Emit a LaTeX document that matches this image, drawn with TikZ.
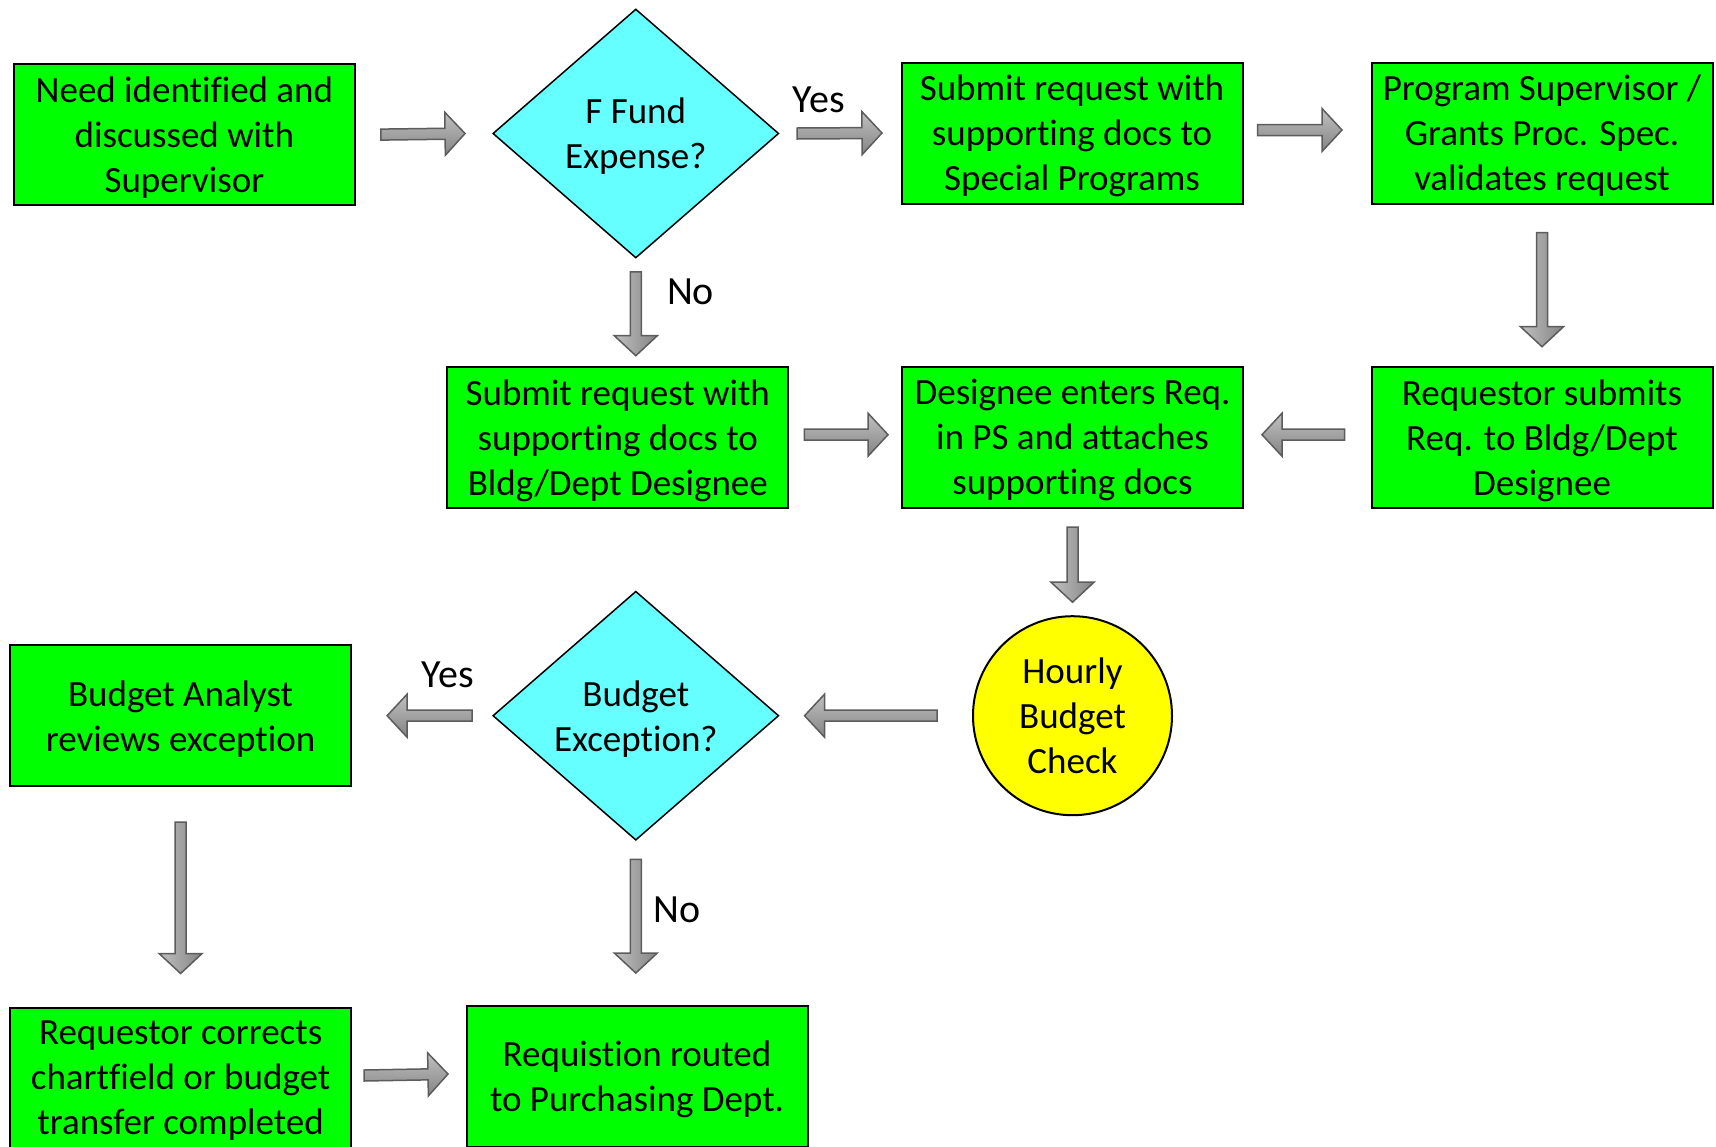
\documentclass[tikz,border=0pt]{standalone}
\usepackage{fontspec}
\setmainfont{Carlito}[Ligatures=NoCommon]
\usetikzlibrary{shapes.geometric,calc}

\definecolor{stepgreen}{RGB}{0,255,0}
\definecolor{decisioncyan}{RGB}{102,255,255}
\definecolor{checkyellow}{RGB}{255,255,0}
\definecolor{arrowedge}{RGB}{92,92,92}
\definecolor{arrowlight}{RGB}{192,192,192}
\definecolor{arrowdark}{RGB}{132,132,132}

\tikzset{
  base/.style={font=\fontsize{37}{45}\selectfont, align=center, inner sep=0pt,
    text depth=0pt},
  stepbox/.style={base, rectangle, draw=black, line width=2pt, fill=stepgreen,
    minimum width=341pt, minimum height=141pt},
  decision/.style={base, diamond, draw=black, line width=1.5pt, fill=decisioncyan,
    minimum width=286pt, minimum height=249pt, shape aspect=1.15},
  check/.style={base, circle, draw=black, line width=2pt, fill=checkyellow,
    minimum size=199pt},
  tag/.style={font=\fontsize{40}{48}\selectfont, inner sep=0pt},
  flowarrow/.style={draw=arrowedge, line width=1.5pt, line join=miter},
  sideways/.style={top color=arrowlight, bottom color=arrowdark},
  upright/.style={left color=arrowlight, right color=arrowdark}
}

% Block arrow from coordinate #2 to coordinate #3, shaded with style #1
\newcommand\blockarrow[3][sideways]{%
  \path[flowarrow,#1] let \p1=(#2), \p2=(#3),
      \n1={atan2(\y2-\y1,\x2-\x1)}, \n2={veclen(\x2-\x1,\y2-\y1)} in
    ([shift={(\p1)},rotate=\n1]0,-5.5)
    -- ([shift={(\p1)},rotate=\n1]{\n2-20},-5.5)
    -- ([shift={(\p1)},rotate=\n1]{\n2-20},-21.5)
    -- ([shift={(\p1)},rotate=\n1]{\n2},0)
    -- ([shift={(\p1)},rotate=\n1]{\n2-20},21.5)
    -- ([shift={(\p1)},rotate=\n1]{\n2-20},5.5)
    -- ([shift={(\p1)},rotate=\n1]0,5.5) -- cycle;
}

\begin{document}
\begin{tikzpicture}[x=1pt,y=-1pt]
\useasboundingbox (0,0) rectangle (1716,1146);
\clip (0,0) rectangle (1716,1146);

% process steps and decisions
\node[stepbox] (need) at (184.4,134.6) {Need identified and\\discussed with\\Supervisor};
\node[decision] (fund) at (635.8,133.5) {F Fund\\Expense?};
\node[stepbox] (spp) at (1072,133) {Submit request with\\supporting docs to\\Special Programs};
\node[stepbox] (pss) at (1542,133) {Program Supervisor /\\Grants Proc. Spec.\\validates request};
\node[stepbox] (bsub) at (617.8,437.2) {Submit request with\\supporting docs to\\Bldg/Dept Designee};
\node[stepbox] (dent) at (1072.5,437.2) {Designee enters Req.\\in PS and attaches\\supporting docs};
\node[stepbox] (rsub) at (1542,437.2) {Requestor submits\\Req. to Bldg/Dept\\Designee};
\node[check] (hbc) at (1072.5,715.7) {Hourly\\Budget\\Check};
\node[decision] (bex) at (635.8,715.7) {Budget\\Exception?};
\node[stepbox] (bav) at (180.6,715.7) {Budget Analyst\\reviews exception};
\node[stepbox] (rcor) at (180.6,1078) {Requestor corrects\\chartfield or budget\\transfer completed};
\node[stepbox] (rout) at (637,1076.5) {Requistion routed\\to Purchasing Dept.};

% branch labels
\node[tag] (fyes) at (818.6,99.6) {Yes};
\node[tag] (fno) at (690.6,292.2) {No};
\node[tag] (byes) at (447.6,675.3) {Yes};
\node[tag] (bno) at (677.4,909.5) {No};

% arrow end points
\coordinate (a1s) at ($(need.east)+(25,0)$);
\coordinate (a1e) at ($(fund.west)+(-27,0)$);
\coordinate (a2s) at ($(fund.east)+(17.5,0)$);
\coordinate (a2e) at ($(spp.west)+(-18.5,0)$);
\coordinate (a3s) at ($(spp.east)+(14,-3)$);
\coordinate (a3e) at ($(pss.west)+(-28.5,-3)$);
\coordinate (a4s) at ($(pss.south)+(0,28)$);
\coordinate (a4e) at ($(rsub.north)+(0,-19)$);
\coordinate (a5s) at ($(rsub.west)+(-26,-2.5)$);
\coordinate (a5e) at ($(dent.east)+(18,-2.5)$);
\coordinate (a6s) at ($(bsub.east)+(15,-2.5)$);
\coordinate (a6e) at ($(dent.west)+(-13,-2.5)$);
\coordinate (a7s) at ($(fund.south)+(0,13)$);
\coordinate (a7e) at ($(fund.south |- bsub.north)+(0,-10)$);
\coordinate (a8s) at ($(dent.south)+(0,18.5)$);
\coordinate (a8e) at ($(hbc.north)+(0,-13)$);
\coordinate (a9s) at ($(hbc.west)+(-35,0)$);
\coordinate (a9e) at ($(bex.east)+(25,0)$);
\coordinate (a10s) at ($(bex.west)+(-20,0)$);
\coordinate (a10e) at ($(bav.east)+(35,0)$);
\coordinate (a11s) at ($(bav.south)+(0,35)$);
\coordinate (a11e) at ($(rcor.north)+(0,-33)$);
\coordinate (a12s) at ($(bex.south)+(0,18.5)$);
\coordinate (a12e) at ($(bex.south |- rout.north)+(0,-32)$);
\coordinate (a13s) at ($(rcor.east)+(12,-2.5)$);
\coordinate (a13e) at ($(rout.west)+(-17.5,-2.5)$);

% connectors
\blockarrow{a1s}{a1e}
\blockarrow{a2s}{a2e}
\blockarrow{a3s}{a3e}
\blockarrow[upright]{a4s}{a4e}
\blockarrow{a5s}{a5e}
\blockarrow{a6s}{a6e}
\blockarrow[upright]{a7s}{a7e}
\blockarrow[upright]{a8s}{a8e}
\blockarrow{a9s}{a9e}
\blockarrow{a10s}{a10e}
\blockarrow[upright]{a11s}{a11e}
\blockarrow[upright]{a12s}{a12e}
\blockarrow{a13s}{a13e}
\end{tikzpicture}
\end{document}
